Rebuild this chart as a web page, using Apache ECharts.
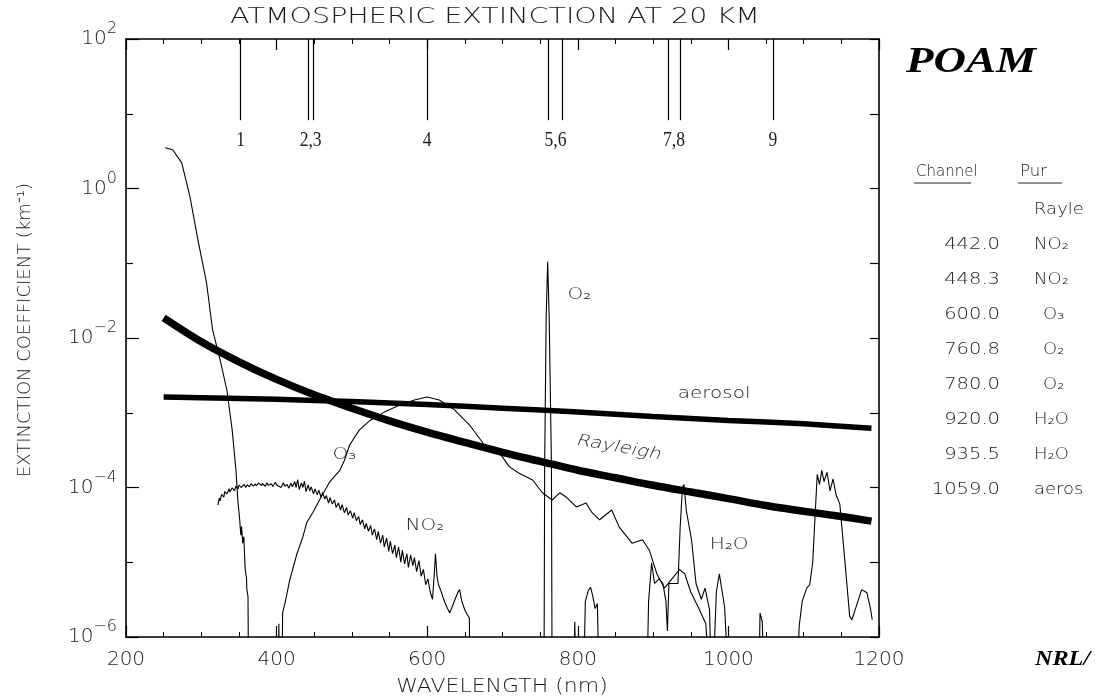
<!DOCTYPE html>
<html><head><meta charset="utf-8">
<script src="https://cdn.jsdelivr.net/npm/echarts@6/dist/echarts.min.js"></script>
<style>html,body{margin:0;padding:0;background:#fff}#c{width:1105px;height:697px}</style>
</head><body><div id="c"></div>
<script>
// ---------------- DATA (wavelength nm, extinction km^-1) ----------------
const rayleigh = [[250,1.86e-2],[300,8.9e-3],[350,4.8e-3],[400,2.8e-3],[450,1.74e-3],[500,1.15e-3],[550,7.8e-4],[600,5.5e-4],[650,4.0e-4],[700,2.95e-4],[750,2.24e-4],[800,1.70e-4],[850,1.35e-4],[900,1.07e-4],[950,8.7e-5],[1000,7.1e-5],[1050,5.75e-5],[1100,4.8e-5],[1150,4.1e-5],[1190,3.55e-5]];
const aerosol = [[250,1.62e-3],[400,1.51e-3],[500,1.41e-3],[600,1.29e-3],[700,1.15e-3],[800,1.02e-3],[900,8.9e-4],[1000,7.9e-4],[1100,7.1e-4],[1190,6.2e-4]];
const ozoneUV = [[252,3.5],[262,3.3],[274,2.2],[285,0.77],[295.5,0.205],[307,5.45e-2],[315,1.28e-2],[325,5.1e-3],[334,2.0e-3],[341,5.9e-4],[346,1.7e-4],[348.5,6.8e-5],[351,3.7e-5],[352.5,2.3e-5],[353.5,3e-5],[355,1.8e-5],[356.5,2.2e-5],[358,9e-6],[359,7e-6],[360,6.3e-6],[360.5,4.3e-6],[362,3.5e-6],[363,1e-7]];
const ozoneVis = [[402,1e-7],[403,1.5e-6],[404,1e-7],[407,1e-7],[408,2.1e-6],[411,2.8e-6],[417.5,5.8e-6],[427,1.3e-5],[435,2.2e-5],[440,3.4e-5],[448,4.6e-5],[457,6.8e-5],[470,1.17e-4],[484,1.7e-4],[490,2.3e-4],[497,3.7e-4],[510,5.9e-4],[524,7.9e-4],[543,1.02e-3],[563,1.26e-3],[583,1.48e-3],[600,1.62e-3],[616,1.48e-3],[636,1.1e-3],[656,6.9e-4],[676,3.7e-4],[696,2.9e-4],[709,1.9e-4],[722,1.55e-4],[740,1.26e-4],[753,8.5e-5],[766,6.8e-5],[776,8.5e-5],[785,7.4e-5],[798,5.5e-5],[811,6.2e-5],[819,4.6e-5],[829,3.7e-5],[845,5.0e-5],[855,2.95e-5],[872,1.8e-5],[886,2.0e-5],[895,1.45e-5],[905,7e-6],[915,4.5e-6],[925,6e-6],[935,8e-6],[942,7e-6],[950,4e-6],[960,2.5e-6],[970,1.5e-6],[978,1e-7]];
const no2 = [[322,5.8e-5],[324,7.2e-5],[325,6.6e-5],[327,8.1e-5],[330,7.4e-5],[331,8.8e-5],[334,8.2e-5],[337,9.6e-5],[338,8.7e-5],[341,9.9e-5],[344,9.1e-5],[346,1.04e-4],[349,9.6e-5],[350,1.08e-4],[353,1.0e-4],[357,1.1e-4],[359,1.0e-4],[361,1.09e-4],[364,1.02e-4],[366,1.13e-4],[369,1.04e-4],[372,1.12e-4],[373,1.05e-4],[376,1.15e-4],[380,1.06e-4],[381,1.13e-4],[385,1.04e-4],[387,1.16e-4],[389,1.07e-4],[393,1.12e-4],[395,1.03e-4],[398,1.17e-4],[401,1.06e-4],[403,1.12e-4],[406,1.0e-4],[409,1.16e-4],[411,1.04e-4],[414,1.1e-4],[416,9.8e-5],[419,1.14e-4],[421,1.02e-4],[424,1.2e-4],[426,1.0e-4],[428,1.28e-4],[430,9.4e-5],[433,1.15e-4],[435,1.0e-4],[437,1.22e-4],[439,8.8e-5],[442,1.08e-4],[444,9.0e-5],[446,1.02e-4],[449,8.2e-5],[451,9.6e-5],[454,8.0e-5],[456,9.2e-5],[459,7.4e-5],[461,8.6e-5],[464,7.0e-5],[466,7.8e-5],[469,6.2e-5],[471,7.3e-5],[474,6.0e-5],[477,6.8e-5],[479,5.4e-5],[482,6.2e-5],[485,5.0e-5],[487,5.9e-5],[490,4.6e-5],[493,5.4e-5],[495,4.3e-5],[498,4.9e-5],[501,3.9e-5],[503,4.6e-5],[506,3.6e-5],[509,4.1e-5],[511,3.2e-5],[514,3.7e-5],[517,2.8e-5],[519,3.3e-5],[522,2.6e-5],[525,3.1e-5],[527,2.3e-5],[530,2.8e-5],[533,2.0e-5],[535,2.6e-5],[538,1.8e-5],[541,2.3e-5],[543,1.6e-5],[546,2.1e-5],[549,1.4e-5],[551,1.9e-5],[554,1.3e-5],[557,1.7e-5],[559,1.15e-5],[562,1.6e-5],[565,1.0e-5],[567,1.45e-5],[570,9.5e-6],[573,1.3e-5],[575,8.5e-6],[578,1.25e-5],[581,9e-6],[583,1.15e-5],[586,7.5e-6],[589,1.05e-5],[592,6.5e-6],[595,8e-6],[598,5e-6],[601,6e-6],[604,4e-6],[607,3.2e-6],[609,6e-6],[611,1.3e-5],[613,6.5e-6],[615,5e-6],[618,4.2e-6],[621,3.4e-6],[624,2.8e-6],[627,2.4e-6],[630,2.1e-6],[633,2.5e-6],[637,3.2e-6],[641,4.0e-6],[643,4.3e-6],[646,3.0e-6],[650,2.3e-6],[653,2.0e-6],[656,1.8e-6],[657,1e-7]];
const oxygen = [[755,1e-7],[756,2e-4],[758,1.9e-2],[760,0.105],[761,0.1],[762,1.9e-2],[765,2e-4],[766,1e-7]];
const water = [[794,1e-7],[796,1.6e-6],[798,1e-7],[807,1e-7],[810,3e-6],[814,4.2e-6],[817,4.6e-6],[820,3.5e-6],[823,2.4e-6],[826,2.8e-6],[829,1e-7],
  [891,1e-7],[894,3e-6],[898,9.8e-6],[902,5.2e-6],[908,6e-6],[913,5.2e-6],[917,3e-6],[919,1.2e-6],[921,5.2e-6],[933,5.2e-6],[936,3e-5],[939,1.0e-4],[941,1.1e-4],[944,5e-5],[951,2e-5],[957,5.2e-6],[964,3.2e-6],[969,4.5e-6],[975,2.3e-6],[978,1e-7],
  [980,1e-7],[984,4e-6],[988,7e-6],[995,2.5e-6],[1002,1e-7],
  [1040,1e-7],[1042,2.1e-6],[1045,1.6e-6],[1048,1e-7],
  [1090,1e-7],[1094,1.4e-6],[1098,3e-6],[1104,4.5e-6],[1108,5e-6],[1112,1e-5],[1115,4e-5],[1118,1.5e-4],[1121,1.1e-4],[1124,1.7e-4],[1127,1.2e-4],[1131,1.6e-4],[1135,9e-5],[1139,1.3e-4],[1143,8e-5],[1148,6e-5],[1158,4.3e-6],[1161,1.9e-6],[1164,1.7e-6],[1171,2.8e-6],[1177,4.3e-6],[1184,3.9e-6],[1189,2.3e-6],[1191,1.7e-6]];

const channelWl = [352.3, 442.0, 448.3, 600.0, 760.8, 780.0, 920.0, 935.5, 1059.0];
const channelTop = 100, channelBottom = 8.2;
const channelLabels = ['1', '2,3', '4', '5,6', '7,8', '9'];
const channelLabelWl = [352.3, 445.2, 600.0, 770.4, 927.8, 1059.0];
const channelLabelLevel = 4.4;

const annotText = ['O₂', 'aerosol', 'Rayleigh', 'O₃', 'NO₂', 'H₂O'];
const annotPos = [[802, 3.8e-2], [981, 1.78e-3], [855, 3.4e-4], [490, 2.7e-4], [597, 3.05e-5], [1001, 1.7e-5]];

const tableChannel = ['', '442.0', '448.3', '600.0', '760.8', '780.0', '920.0', '935.5', '1059.0'];
const tablePurpose = ['Rayle', 'NO₂', 'NO₂', 'O₃', 'O₂', 'O₂', 'H₂O', 'H₂O', 'aeros'];
const xTicks = [200, 400, 600, 800, 1000, 1200];
const yMajor = [1e-6, 1e-4, 1e-2, 1, 100];
const yMinor = [1e-5, 1e-3, 1e-1, 10];

// ---------------- CHART ----------------
const FONT = "'DejaVu Sans', sans-serif";
const SERIF = "'Liberation Serif', 'DejaVu Serif', serif";
const INK = '#1a1a1a';
const LW = 200; // light weight for the plotter-style lettering
const chart = echarts.init(document.getElementById('c'), null, { renderer: 'canvas' });

const axisLine = { show: true, onZero: false, lineStyle: { color: '#000', width: 1.6 } };
function thin(name, data) {
  return { name, type: 'line', data, symbol: 'none', silent: true, z: 2,
           lineStyle: { color: '#000', width: 1.1 } };
}
const xBase = { type: 'value', min: xTicks[0], max: xTicks[xTicks.length - 1], interval: 200,
  axisLine, axisTick: { show: true, inside: true, length: 11, lineStyle: { color: '#000', width: 1.2 } },
  minorTick: { show: true, splitNumber: 4, length: 5, lineStyle: { color: '#000', width: 1 } },
  splitLine: { show: false } };
const yBase = { type: 'log', logBase: 10, min: yMajor[0], max: yMajor[yMajor.length - 1], splitLine: { show: false } };

const option = {
  animation: false,
  backgroundColor: '#ffffff',
  grid: { left: 126, top: 39, width: 753, height: 598, containLabel: false },
  xAxis: [
    Object.assign({}, xBase, { position: 'bottom',
      axisLabel: { color: INK, fontFamily: FONT, fontWeight: LW, fontSize: 20, margin: 13, formatter: v => String(v) } }),
    Object.assign({}, xBase, { position: 'top', axisLabel: { show: false } })
  ],
  yAxis: [
    Object.assign({}, yBase, { position: 'left', axisLine,
      axisTick: { show: true, inside: true, length: 13, customValues: yMajor, lineStyle: { color: '#000', width: 1.2 } },
      axisLabel: { margin: 9, customValues: yMajor,
        formatter: v => { const e = Math.round(Math.log10(v)); return '{b|10}{s|' + (e < 0 ? '−' : '') + Math.abs(e) + '}'; },
        rich: { b: { fontFamily: FONT, fontWeight: LW, fontSize: 20, color: INK },
                s: { fontFamily: FONT, fontWeight: LW, fontSize: 16, color: INK, padding: [0, 0, 20, 0] } } } }),
    Object.assign({}, yBase, { position: 'right', axisLine,
      axisTick: { show: true, inside: true, length: 9, lineStyle: { color: '#000', width: 1.2 } },
      axisLabel: { show: false } }),
    Object.assign({}, yBase, { position: 'left', axisLine: { show: false },
      axisTick: { show: true, inside: true, length: 7, customValues: yMinor, lineStyle: { color: '#000', width: 1.2 } },
      axisLabel: { show: false } })
  ],
  series: [
    thin('O3 UV', ozoneUV),
    thin('NO2', no2),
    thin('O3 Chappuis', ozoneVis),
    thin('O2', oxygen),
    thin('H2O', water),
    { name: 'aerosol', type: 'line', data: aerosol, symbol: 'none', silent: true, z: 3, smooth: 0.3,
      lineStyle: { color: '#000', width: 5.5 },
      markLine: { silent: true, symbol: ['none', 'none'], label: { show: false },
        lineStyle: { color: '#000', width: 1.2, type: 'solid' },
        data: channelWl.map(w => [{ coord: [w, channelTop] }, { coord: [w, channelBottom] }]) } },
    { name: 'Rayleigh', type: 'line', data: rayleigh, symbol: 'none', silent: true, z: 4, smooth: 0.3,
      lineStyle: { color: '#000', width: 7.5 } }
  ]
};
chart.setOption(option);

// ---------------- TEXT (graphic) ----------------
const g = [];
function txt(text, x, y, font, opt) {
  opt = opt || {};
  const el = { type: 'text', x, y, scaleX: opt.sx || 1, rotation: opt.rot || 0, z: 100, silent: true,
    style: { text, font, fill: opt.fill || INK, textAlign: opt.align || 'center', textVerticalAlign: 'middle' } };
  if (opt.skew) el.skewX = opt.skew;
  g.push(el);
}
const SANS = px => `${LW} ${px}px ${FONT}`;
txt('ATMOSPHERIC EXTINCTION AT 20 KM', 495, 18, SANS(21), { sx: 1.36 });
txt('WAVELENGTH (nm)', 502, 687, SANS(20), { sx: 1.1 });
txt('EXTINCTION COEFFICIENT (km⁻¹)', 25, 330, SANS(18), { rot: Math.PI / 2 });
txt('POAM', 906, 63, `italic bold 36px ${SERIF}`, { align: 'left', sx: 1.25, fill: '#000' });
txt('NRL/', 1035, 659, `italic bold 22px ${SERIF}`, { align: 'left', sx: 1.1, fill: '#000' });

// table
txt('Channel', 916, 172, SANS(15), { align: 'left', sx: 1.0 });
txt('Pur', 1020, 172, SANS(15), { align: 'left', sx: 1.1 });
g.push({ type: 'line', silent: true, shape: { x1: 914, y1: 183, x2: 971, y2: 183 }, style: { stroke: '#222', lineWidth: 1.2 } });
g.push({ type: 'line', silent: true, shape: { x1: 1018, y1: 183, x2: 1062, y2: 183 }, style: { stroke: '#222', lineWidth: 1.2 } });
tableChannel.forEach((t, i) => {
  const y = 210 + 35 * i;
  if (t) txt(t, 1000, y, SANS(15), { align: 'right', sx: 1.3 });
  const p = tablePurpose[i];
  txt(p, p[0] === 'O' ? 1043 : 1034, y, SANS(15), { align: 'left', sx: 1.2 });
});

// channel numbers under the marker lines (data coordinates)
channelLabels.forEach((t, i) => {
  const p = chart.convertToPixel({ seriesIndex: 0 }, [channelLabelWl[i], channelLabelLevel]);
  txt(t, p[0], p[1], `22px ${SERIF}`, { sx: 0.8 });
});

// in-plot annotations placed at data coordinates
annotText.forEach((t, i) => {
  const p = chart.convertToPixel({ seriesIndex: 0 }, annotPos[i]);
  const isR = t === 'Rayleigh';
  txt(t, p[0], p[1], SANS(16), { sx: 1.25, rot: isR ? -10 * Math.PI / 180 : 0, skew: isR ? -0.25 : 0 });
});
chart.setOption({ graphic: g });
</script>
</body></html>
